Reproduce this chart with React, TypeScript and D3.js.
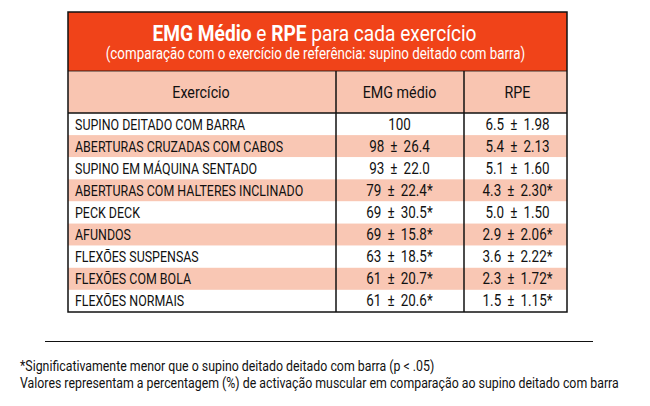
import React, { useEffect, useRef } from 'react';
import * as d3 from 'd3';

const exercises = [
    'SUPINO DEITADO COM BARRA',
    'ABERTURAS CRUZADAS COM CABOS',
    'SUPINO EM MÁQUINA SENTADO',
    'ABERTURAS COM HALTERES INCLINADO',
    'PECK DECK',
    'AFUNDOS',
    'FLEXÕES SUSPENSAS',
    'FLEXÕES COM BOLA',
    'FLEXÕES NORMAIS'
];
const emgMean = [100, 98, 93, 79, 69, 69, 63, 61, 61];
const emgSd = [null, 26.4, 22.0, 22.4, 30.5, 15.8, 18.5, 20.7, 20.6];
const emgSig = [false, false, false, true, true, true, true, true, true];
const rpeMean = [6.5, 5.4, 5.1, 4.3, 5.0, 2.9, 3.6, 2.3, 1.5];
const rpeSd = [1.98, 2.13, 1.60, 2.30, 1.50, 2.06, 2.22, 1.72, 1.15];
const rpeSig = [false, false, false, true, false, true, true, true, true];
const columns = ['Exercício', 'EMG médio', 'RPE'];

const FONT = 'Roboto, "Liberation Sans", sans-serif';
const SX = 0.84; // condensed look
const PM = ' \u2009±\u2009 ';

const App = () => {
    const ref = useRef<SVGSVGElement | null>(null);

    useEffect(() => {
        if (!ref.current) return;
        const svg = d3.select(ref.current);
        svg.selectAll('*').remove();

        // squeezed text helper
        const label = (parent: any, x: number, y: number, size: number, anchor = 'start', fill = '#111') => {
            return parent.append('g')
                .attr('transform', `translate(${x},${y}) scale(${SX},1)`)
                .append('text')
                .attr('text-anchor', anchor)
                .attr('fill', fill)
                .style('font-family', FONT)
                .style('font-size', `${size}px`);
        };

        const left = 68, right = 567, top = 12;
        const col1 = 336, col2 = 464;
        const titleBottom = 71, headBottom = 113, bottom = 312;

        const y = d3.scaleBand<number>()
            .domain(d3.range(exercises.length))
            .range([headBottom, bottom]);

        svg.append('rect').attr('x', left).attr('y', top)
            .attr('width', right - left).attr('height', titleBottom - top)
            .attr('fill', '#f04319');
        svg.append('rect').attr('x', left).attr('y', titleBottom)
            .attr('width', right - left).attr('height', headBottom - titleBottom)
            .attr('fill', '#f9c5b1');

        svg.selectAll('rect.row')
            .data(exercises)
            .enter()
            .append('rect')
            .attr('class', 'row')
            .attr('x', left)
            .attr('y', (_, i) => y(i)!)
            .attr('width', right - left)
            .attr('height', y.bandwidth())
            .attr('fill', (_, i) => (i % 2 ? '#f9c7b4' : '#ffffff'));

        const title = label(svg, (left + right) / 2 - 3, 41, 22.8, 'middle', '#fff');
        title.append('tspan').attr('font-weight', 'bold').text('EMG Médio');
        title.append('tspan').text(' e ');
        title.append('tspan').attr('font-weight', 'bold').text('RPE');
        title.append('tspan').text(' para cada exercício');

        label(svg, (left + right) / 2 - 2, 59, 15.9, 'middle', '#fff')
            .text('(comparação com o exercício de referência: supino deitado com barra)');

        const colCenters = [(left + col1) / 2 - 1, (col1 + col2) / 2 - 0.5, (col2 + right) / 2 + 2];
        columns.forEach((c, i) => label(svg, colCenters[i], 98, 17, 'middle').text(c));

        exercises.forEach((name, i) => {
            const cy = y(i)! + y.bandwidth() / 2 + 5.5;
            label(svg, left + 7, cy, 14.8).text(name);
            label(svg, colCenters[1], cy, 16, 'middle')
                .text(emgSd[i] == null ? `${emgMean[i]}`
                    : `${emgMean[i]}${PM}${emgSd[i]!.toFixed(1)}${emgSig[i] ? '*' : ''}`);
            label(svg, colCenters[2], cy, 16, 'middle')
                .text(`${rpeMean[i].toFixed(1)}${PM}${rpeSd[i].toFixed(2)}${rpeSig[i] ? '*' : ''}`);
        });

        const lines: [number, number, number, number, number][] = [
            [col1, titleBottom, col1, bottom, 1.5],
            [col2, titleBottom, col2, bottom, 1.5],
            [left, headBottom, right, headBottom, 1.5],
            [left, titleBottom, right, titleBottom, 0.8]
        ];
        svg.selectAll('line.grid').data(lines).enter().append('line')
            .attr('x1', d => d[0]).attr('y1', d => d[1])
            .attr('x2', d => d[2]).attr('y2', d => d[3])
            .attr('stroke', '#111').attr('stroke-width', d => d[4]);
        svg.append('rect').attr('x', left).attr('y', top)
            .attr('width', right - left).attr('height', bottom - top)
            .attr('fill', 'none').attr('stroke', '#111').attr('stroke-width', 1.5);

        // footnote
        svg.append('line').attr('x1', 45).attr('x2', 593).attr('y1', 341.5).attr('y2', 341.5)
            .attr('stroke', '#111').attr('stroke-width', 1);
        label(svg, 20, 370.5, 14.7)
            .text('*Significativamente menor que o supino deitado deitado com barra (p < .05)');
        label(svg, 20, 387.5, 14.7)
            .text('Valores representam a percentagem (%) de activação muscular em comparação ao supino deitado com barra');
    }, []);

    return (
        <svg ref={ref} width={650} height={406}
            style={{ position: 'absolute', left: 0, top: 0, background: '#fff' }} />
    );
};

export default App;
